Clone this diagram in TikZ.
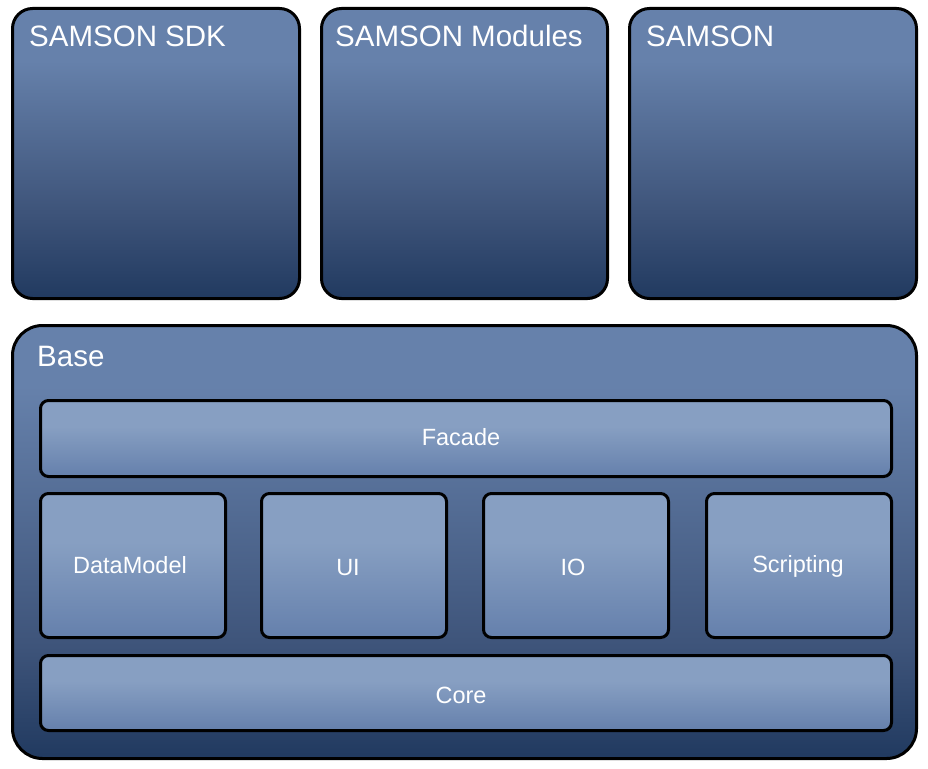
\documentclass[tikz,border=0pt]{standalone}
\usepackage{fontspec}
\setmainfont{Liberation Sans}
\usetikzlibrary{shadings}
\definecolor{outtop}{RGB}{102,129,171}
\definecolor{outmid}{RGB}{62,84,122}
\definecolor{outbot}{RGB}{33,58,96}
\definecolor{intop}{RGB}{135,159,194}
\definecolor{inbot}{RGB}{101,128,172}
\pgfdeclareverticalshading{outershade}{100bp}{color(0bp)=(outbot); color(25bp)=(outbot); color(40bp)=(outmid); color(66bp)=(outtop); color(100bp)=(outtop)}
\pgfdeclareverticalshading{basehade}{100bp}{color(0bp)=(outbot); color(25bp)=(outbot); color(38bp)=(outmid); color(68bp)=(outtop); color(100bp)=(outtop)}
\pgfdeclareverticalshading{innershade}{100bp}{color(0bp)=(inbot); color(25bp)=(inbot); color(58bp)=(intop); color(100bp)=(intop)}
\tikzset{
  topbox/.style={draw=black, line width=3pt, rounded corners=20pt, shading=outershade, anchor=north west, inner sep=0pt},
  basebox/.style={draw=black, line width=3pt, rounded corners=30pt, shading=basehade, anchor=north west, inner sep=0pt},
  innerbox/.style={draw=black, line width=3pt, rounded corners=8pt, shading=innershade, anchor=north west, inner sep=0pt},
  intext/.style={text=white, font=\fontsize{23.5}{26}\selectfont, inner sep=0pt},
  title/.style={text=white, font=\fontsize{29.5}{33}\selectfont, anchor=base west, inner sep=0pt},
}
\begin{document}
\begin{tikzpicture}[x=1pt,y=-1pt]
\useasboundingbox (0,0) rectangle (928,768);
\node[topbox, minimum width=287pt, minimum height=290pt] (sdk) at (11,7) {};
\node[topbox, minimum width=286pt, minimum height=290pt] (mod) at (320,7) {};
\node[topbox, minimum width=287pt, minimum height=290pt] (sam) at (628,7) {};
\node[title] (sdkt) at (29,46) {SAMSON SDK};
\node[title] (modt) at (335,46) {SAMSON Modules};
\node[title] (samt) at (646,46) {SAMSON};
\node[basebox, minimum width=904pt, minimum height=433pt] (base) at (11,324) {};
\node[title] (baset) at (37,366) {Base};
\node[innerbox, minimum width=851pt, minimum height=76pt] (facade) at (39,399) {};
\node[innerbox, minimum width=185pt, minimum height=144pt] (dm) at (39,492) {};
\node[innerbox, minimum width=185pt, minimum height=144pt] (ui) at (260,492) {};
\node[innerbox, minimum width=185pt, minimum height=144pt] (io) at (482,492) {};
\node[innerbox, minimum width=185pt, minimum height=144pt] (scr) at (705,492) {};
\node[innerbox, minimum width=851pt, minimum height=75pt] (core) at (39,654) {};
\node[intext] (facadet) at ([xshift=-5pt,yshift=1pt]facade.center) {Facade};
\node[intext] (dmt) at ([xshift=-3pt]dm.center) {DataModel};
\node[intext] (uit) at ([xshift=-6pt,yshift=-2pt]ui.center) {UI};
\node[intext] (iot) at ([xshift=-3pt,yshift=-2pt]io.center) {IO};
\node[intext] (scrt) at ([xshift=-1pt,yshift=-0.5pt]scr.center) {Scripting};
\node[intext] (coret) at ([xshift=-5pt,yshift=-2pt]core.center) {Core};
\end{tikzpicture}
\end{document}
